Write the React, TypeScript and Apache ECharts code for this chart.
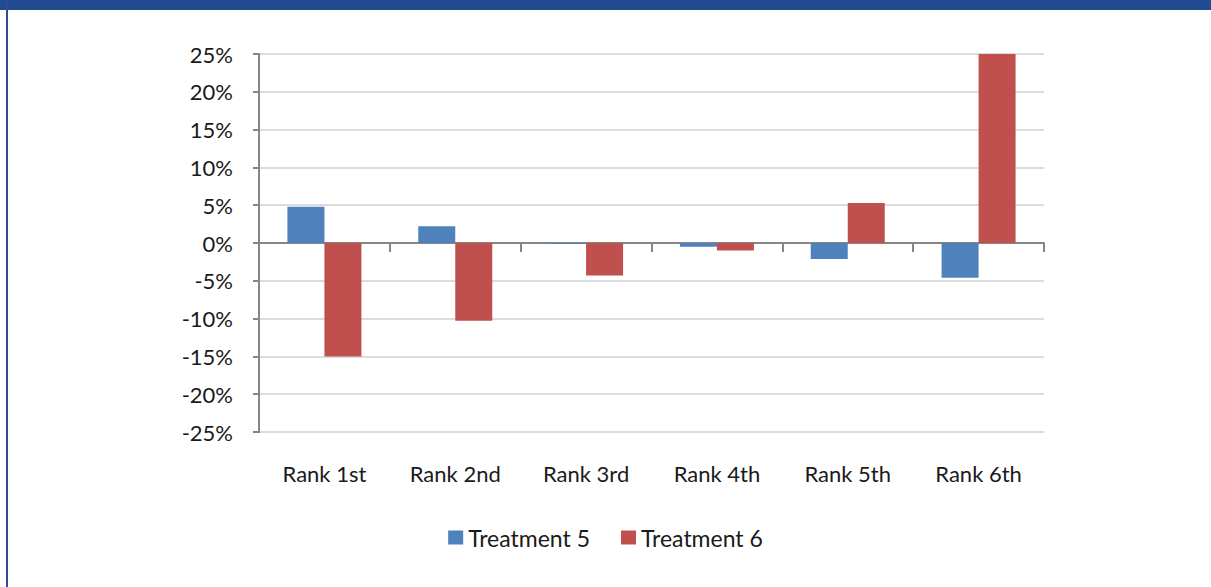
import React, { useEffect, useRef } from "react";
import * as echarts from "echarts";

const categories = ["Rank 1st", "Rank 2nd", "Rank 3rd", "Rank 4th", "Rank 5th", "Rank 6th"];
const treatment5 = [4.8, 2.2, -0.1, -0.5, -2.1, -4.6];
const treatment6 = [-15.0, -10.3, -4.3, -1.0, 5.3, 25.0];
const seriesNames = ["Treatment 5", "Treatment 6"];
const yMin = -25;
const yMax = 25;
const yStep = 5;

const FONT = "Lato, 'Noto Sans', sans-serif";

export default function App() {
  const ref = useRef<HTMLDivElement>(null);
  useEffect(() => {
    if (!ref.current) return;
    const chart = echarts.init(ref.current, undefined, { renderer: "svg" });
    chart.setOption({
      animation: false,
      backgroundColor: "#ffffff",
      textStyle: { fontFamily: FONT },
      graphic: [
        { type: "rect", shape: { x: 0, y: 0, width: 1211, height: 10 }, style: { fill: "#234B8F" }, silent: true },
        { type: "rect", shape: { x: 6, y: 0, width: 2, height: 587 }, style: { fill: "#2A4F97" }, silent: true },
      ],
      grid: { left: 259, right: 167, top: 54, bottom: 155, containLabel: false },
      legend: {
        data: seriesNames,
        bottom: 33,
        left: "center",
        itemWidth: 15,
        itemHeight: 14,
        itemGap: 31,
        icon: "rect",
        textStyle: { fontSize: 23, color: "#1a1a1a", fontFamily: FONT },
      },
      xAxis: [
        {
          type: "category",
          data: categories,
          position: "bottom",
          axisLine: { show: false, onZero: false },
          axisTick: { show: false },
          axisLabel: { fontSize: 22, color: "#1a1a1a", margin: 30, fontFamily: FONT },
        },
        {
          type: "category",
          data: categories,
          position: "top",
          axisLine: { show: true, onZero: true, lineStyle: { color: "#868686", width: 2 } },
          axisTick: { show: true, inside: true, length: 9, lineStyle: { color: "#868686", width: 2 } },
          axisLabel: { show: false },
        },
      ],
      yAxis: {
        type: "value",
        min: yMin,
        max: yMax,
        interval: yStep,
        axisLine: { show: true, onZero: false, lineStyle: { color: "#868686", width: 2 } },
        axisTick: { show: true, length: 6, lineStyle: { color: "#868686", width: 2 } },
        axisLabel: {
          fontSize: 22,
          color: "#1a1a1a",
          margin: 26,
          fontFamily: FONT,
          formatter: (v: number) => `${v}%`,
        },
        splitLine: { show: true, lineStyle: { color: "#DCDCDC", width: 2 } },
      },
      series: [
        {
          name: seriesNames[0],
          type: "bar",
          xAxisIndex: 0,
          data: treatment5,
          barWidth: 37,
          barGap: "0%",
          itemStyle: { color: "#4F81BD" },
        },
        {
          name: seriesNames[1],
          type: "bar",
          xAxisIndex: 0,
          data: treatment6,
          barWidth: 37,
          barGap: "0%",
          itemStyle: { color: "#C0504D" },
        },
      ],
    });
    return () => chart.dispose();
  }, []);
  return (
    <div
      ref={ref}
      style={{ position: "absolute", left: 0, top: 0, width: 1211, height: 587 }}
    />
  );
}
